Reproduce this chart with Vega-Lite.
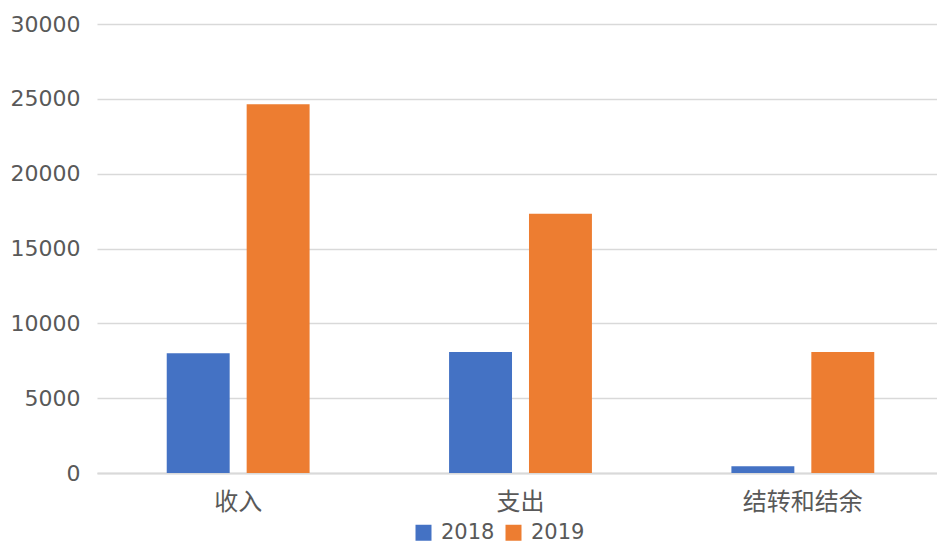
{
  "$schema": "https://vega.github.io/schema/vega-lite/v6.json",
  "width": 847,
  "height": 449,
  "autosize": {"type": "none"},
  "padding": {"left": 97, "top": 24, "right": 0, "bottom": 72},
  "background": "white",
  "config": {
    "view": {"stroke": null},
    "font": "Noto Sans CJK SC"
  },
  "data": {
    "values": [
      {"category": "收入", "year": "2018", "value": 8000},
      {"category": "收入", "year": "2019", "value": 24630},
      {"category": "支出", "year": "2018", "value": 8090},
      {"category": "支出", "year": "2019", "value": 17330},
      {"category": "结转和结余", "year": "2018", "value": 450},
      {"category": "结转和结余", "year": "2019", "value": 8090}
    ]
  },
  "mark": {"type": "bar"},
  "encoding": {
    "x": {
      "field": "category",
      "type": "nominal",
      "sort": ["收入", "支出", "结转和结余"],
      "scale": {"paddingInner": 0.494, "paddingOuter": 0.247},
      "axis": {
        "title": null,
        "labelAngle": 0,
        "labelFontSize": 24,
        "labelColor": "#595959",
        "labelPadding": 17,
        "ticks": false,
        "domain": true,
        "domainColor": "#d9d9d9",
        "domainWidth": 2
      }
    },
    "xOffset": {
      "field": "year",
      "type": "nominal",
      "scale": {"paddingInner": 0.2125, "paddingOuter": 0}
    },
    "y": {
      "field": "value",
      "type": "quantitative",
      "scale": {"domain": [0, 30000]},
      "axis": {
        "title": null,
        "values": [0, 5000, 10000, 15000, 20000, 25000, 30000],
        "format": "d",
        "labelFont": "DejaVu Sans",
        "labelFontSize": 22,
        "labelColor": "#595959",
        "labelPadding": 17,
        "ticks": false,
        "domain": false,
        "gridColor": "#d9d9d9",
        "gridWidth": 1.5
      }
    },
    "color": {
      "field": "year",
      "type": "nominal",
      "scale": {"domain": ["2018", "2019"], "range": ["#4472C4", "#ED7D31"]},
      "legend": {
        "title": null,
        "orient": "none",
        "direction": "horizontal",
        "legendX": 316,
        "legendY": 498,
        "symbolType": "square",
        "symbolSize": 256,
        "symbolStrokeWidth": 0,
        "labelFont": "DejaVu Sans",
        "labelFontSize": 21,
        "labelColor": "#595959",
        "labelOffset": 7,
        "columnPadding": 8
      }
    }
  }
}
